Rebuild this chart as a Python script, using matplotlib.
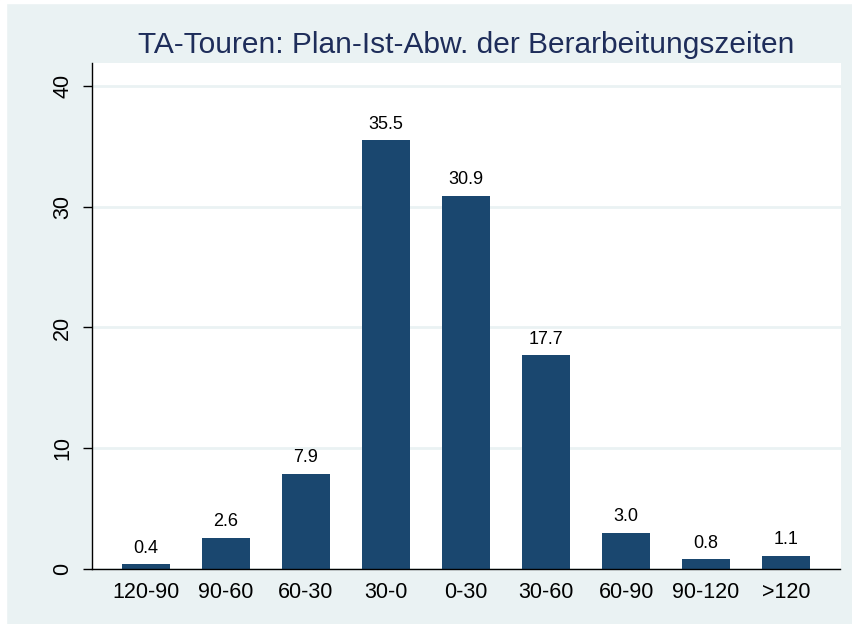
import matplotlib
matplotlib.use("Agg")
import matplotlib.pyplot as plt
from matplotlib.patches import Rectangle

categories = ["120-90", "90-60", "60-30", "30-0", "0-30", "30-60", "60-90", "90-120", ">120"]
values = [0.4, 2.6, 7.9, 35.5, 30.9, 17.7, 3.0, 0.8, 1.1]
yticks = [0, 10, 20, 30, 40]
title = "TA-Touren: Plan-Ist-Abw. der Berarbeitungszeiten"

bg = "#EAF2F3"
bar_color = "#1A476F"
title_color = "#1E2D5A"

plt.rcParams["font.family"] = ["Liberation Sans", "DejaVu Sans"]

fig = plt.figure(figsize=(8.52, 6.24), dpi=100, facecolor=bg)
# thin white margin at top and left as in reference
fig.patches.append(Rectangle((0, 0), 6 / 852, 1, transform=fig.transFigure, color="white", zorder=0))
fig.patches.append(Rectangle((0, 1 - 3 / 624), 1, 3 / 624, transform=fig.transFigure, color="white", zorder=0))

ax = fig.add_axes([92 / 852, 1 - 569 / 624, (840.5 - 92) / 852, (569 - 63) / 624])
ax.set_facecolor("white")

x = list(range(len(categories)))
ax.bar(x, values, width=0.6, color=bar_color, zorder=3)
for xi, v in zip(x, values):
    ax.annotate(f"{v:.1f}", (xi, v), xytext=(0, 5.5), textcoords="offset points",
                ha="center", va="bottom", fontsize=13, color="black", zorder=4)

ax.set_xlim(-0.675, 8.68)
ax.set_ylim(0, 41.9)
ax.set_xticks(x)
ax.set_xticklabels(categories, fontsize=15.5)
ax.set_yticks(yticks)
ax.set_yticklabels([str(t) for t in yticks], fontsize=15.5, rotation=90, va="center")
ax.tick_params(axis="x", length=0, pad=9)
ax.tick_params(axis="y", length=6.5, width=1, pad=7, direction="out")

ax.grid(axis="y", color=bg, linewidth=2, zorder=1)
ax.set_axisbelow(True)

for s in ["top", "right"]:
    ax.spines[s].set_visible(False)
for s in ["left", "bottom"]:
    ax.spines[s].set_color("black")
    ax.spines[s].set_linewidth(1)
    ax.spines[s].set_zorder(5)

ax.set_title(title, fontsize=21.5, color=title_color, pad=7)

fig.savefig("out.png", dpi=100, facecolor=bg)
